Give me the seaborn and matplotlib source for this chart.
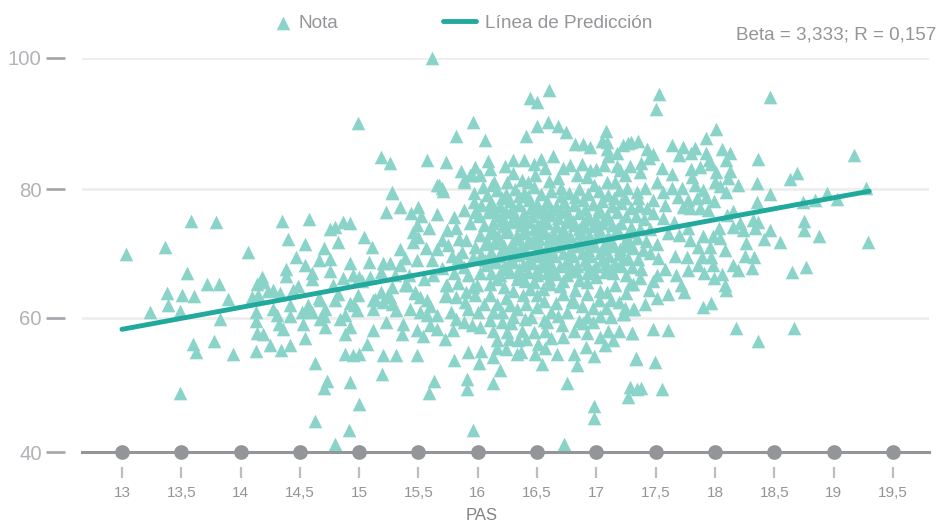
import matplotlib
matplotlib.use("Agg")
import matplotlib.pyplot as plt
import pandas as pd
import seaborn as sns

# values as (PAS, Nota)
left_points = [
    (13.03,70.2),(13.36,71.2),(13.58,75.2),(13.79,75.0),(14.06,70.4),(14.35,75.2),(14.58,75.5),(14.40,72.4),
    (14.54,71.7),(14.47,69.7),(13.55,67.3),(13.72,65.6),(13.82,65.6),(13.38,64.2),(13.51,63.9),(13.61,63.8),
    (13.39,62.4),(13.24,61.3),(13.49,61.5),(13.89,63.3),(13.83,60.3),(13.60,56.5),(13.62,55.3),(13.78,56.9),
    (13.94,55.0),(14.13,55.4),(14.25,56.3),(14.34,55.6),(14.42,56.3),(13.49,49.0),(14.13,61.3),(14.13,60.0),
    (14.14,58.1),(14.19,58.0),(14.32,59.5),(14.36,58.7),(14.53,59.5),(14.54,57.4),(14.63,53.6),(14.42,60.7),
    (14.27,61.8),(14.31,60.9),(14.42,62.4),(14.10,63.6),(14.15,63.9),(14.14,65.6),(14.18,66.7),(14.19,65.9),
    (14.23,64.5),(14.27,64.7),(14.33,64.2),(14.38,67.9),(14.38,66.8),(14.48,65.3),(14.44,64.7),(14.54,68.5),
    (14.60,67.3),(14.60,66.3),(14.52,61.3),(14.57,62.4),(14.60,61.3),(14.56,61.8),(14.66,69.2),(14.70,71.0),
    (14.80,74.2),(14.86,75.0),(14.75,74.0),(14.92,74.8),(14.82,72.0),(14.75,69.4),(14.75,67.6),(14.86,66.5),
    (14.82,64.0),(14.78,65.5),(14.66,63.5),(14.70,60.7),
]

sparse_low = [
    (14.80,41.2),(14.91,43.4),(15.00,47.3),(14.73,50.8),(14.70,49.8),(14.92,50.7),(15.19,51.9),(15.63,50.8),
    (15.59,49.0),(15.91,51.2),(15.91,49.6),(15.96,43.4),(16.13,50.6),(16.19,52.5),(16.75,50.6),(16.98,47.0),
    (16.98,45.2),(16.73,41.3),(17.27,48.4),(17.28,50.0),(17.34,49.6),(17.38,49.8),(17.55,49.6),(17.33,54.3),
    (17.49,53.7),(14.63,44.7),(14.88,55.0),(14.95,54.8),(15.00,54.9),(15.20,54.8),(15.31,54.8),(15.49,54.8),
    (14.84,60.3),(14.88,60.9),(14.92,59.1),(14.88,58.0),(15.12,58.6),(15.23,59.8),(15.07,56.5),(14.71,59.1),
    (14.67,63.2),(14.71,61.8),(14.67,60.3),
]

top_points = [
    (15.61,100.0),(14.99,90.1),(15.96,90.2),(15.82,88.1),(15.18,84.9),(15.26,84.0),(15.57,84.4),(15.73,84.2),
    (15.86,82.8),(15.98,83.4),(15.88,81.4),(15.95,82.2),(15.66,80.6),(15.70,80.2),(15.28,79.4),(15.23,76.5),
    (15.34,77.3),(16.60,95.1),(16.44,93.9),(16.50,93.3),(16.59,90.2),(16.50,89.6),(16.68,89.6),(16.74,88.7),
    (16.41,88.1),(16.06,87.5),(17.08,88.9),(16.82,86.9),(16.89,86.9),(16.95,86.4),(17.05,87.3),(17.09,87.2),
    (17.09,86.1),(17.22,86.7),(17.17,85.5),(17.27,87.0),(17.10,85.0),(16.09,84.3),(16.10,83.1),(16.23,83.5),
    (16.30,84.4),(16.39,84.4),(16.47,83.8),(16.53,84.6),(16.63,85.0),(16.57,83.2),(16.30,82.5),(16.48,82.2),
    (16.72,83.2),(16.78,83.7),(16.88,83.8),(16.95,82.9),(17.00,83.1),(17.06,83.7),(17.17,83.5),(17.24,82.2),
    (15.93,82.2),(16.02,82.2),(16.04,80.3),(16.14,81.1),(16.25,81.1),(16.37,81.4),(16.42,81.1),(16.60,81.3),
    (16.68,81.7),(16.84,82.2),(16.92,81.9),(17.09,81.1),(17.16,81.1),(16.98,80.6),
]

right_points = [
    (17.53,94.5),(17.50,92.2),(18.46,94.0),(18.01,89.2),(17.92,87.8),(19.17,85.2),(18.36,84.6),(18.69,82.4),
    (18.63,81.5),(18.35,81.0),(18.46,79.3),(18.35,78.1),(19.27,80.2),(18.94,79.4),(19.03,78.5),(18.84,78.4),
    (18.74,78.1),(18.75,75.2),(18.75,73.8),(18.88,72.9),(19.29,72.0),(18.55,72.0),(18.46,73.8),(18.41,72.4),
    (18.26,71.8),(18.33,69.7),(18.25,69.9),(18.15,76.7),(18.10,76.1),(18.19,80.6),(18.13,82.8),(18.11,81.7),
    (18.00,81.1),(18.04,80.5),(18.09,79.6),(17.99,78.2),(18.13,85.5),(18.06,86.1),(18.09,84.4),(17.92,85.5),
    (17.95,84.4),(17.97,83.8),(18.01,82.6),(17.83,86.3),(17.80,85.5),(17.87,83.4),(17.73,86.4),(17.70,85.2),
    (17.64,86.7),(17.80,83.1),(17.81,81.9),(17.55,83.2),(17.51,81.1),(17.64,82.3),(17.48,85.4),(17.43,86.1),
    (17.44,84.8),(17.35,87.3),(17.29,87.2),(17.28,83.5),(17.37,82.6),(17.38,84.0),(18.32,75.3),(18.36,75.0),
    (18.34,74.1),(18.24,73.8),(18.15,74.3),(18.21,74.9),(18.03,74.1),(17.90,72.9),(17.98,72.9),(18.04,72.6),
    (17.79,72.3),(17.86,71.2),(17.96,71.2),(18.08,70.8),(17.66,69.9),(17.76,69.7),(17.89,69.7),(17.97,69.7),
    (17.70,73.0),(17.60,73.3),(17.51,71.7),(17.77,74.1),(17.65,75.0),(17.56,75.6),(17.48,76.4),(17.58,77.6),
    (17.87,77.1),(17.94,76.8),(17.79,77.1),(17.73,77.3),(17.69,78.8),(17.77,78.4),(17.85,78.7),(17.92,78.8),
    (17.56,79.6),(17.64,80.2),(17.72,80.2),(17.83,80.6),(17.90,79.9),(17.34,79.6),(17.41,80.2),(17.48,78.4),
    (17.26,80.2),(17.20,82.9),(17.35,78.7),(18.18,58.9),(18.36,56.9),(18.67,58.9),(17.90,62.1),(17.97,62.7),
    (18.08,65.4),(18.09,64.7),(18.65,67.4),(18.77,68.2),(18.31,68.0),(18.19,67.7),(18.15,68.5),(17.99,66.5),
    (18.06,67.1),(17.91,67.3),(17.98,68.5),(17.86,68.5),(17.77,67.7),(17.67,66.9),(17.71,65.4),(17.74,64.4),
    (17.60,64.1),(17.51,63.5),(17.44,64.7),(17.48,66.0),(17.51,66.9),(17.41,62.5),(17.32,61.8),(17.24,62.0),
    (17.22,61.0),(17.30,58.1),(17.48,58.7),(17.60,58.6),
]

mid_points = [
    (15.28,79.6),(15.67,80.6),(15.71,79.7),(15.50,77.3),(15.44,76.4),(15.52,75.9),(15.66,76.2),(15.49,74.5),
    (15.97,78.1),(15.98,76.5),(15.88,81.1),(15.04,72.7),(15.11,71.2),(15.08,68.9),(15.34,70.9),(15.45,73.5),
    (15.59,74.1),(15.74,73.8),(15.82,74.1),(15.50,72.7),(15.45,72.0),(15.70,72.3),(15.84,72.4),(15.75,71.5),
    (15.66,70.9),(15.87,70.5),(15.98,71.2),(15.96,69.7),(15.20,68.8),(15.26,68.8),(15.39,69.6),(15.49,69.3),
    (15.61,69.3),(15.18,67.4),(15.34,68.5),(14.92,68.8),(14.95,66.9),(15.00,66.7),(15.09,66.7),(15.28,65.1),
    (15.18,64.4),(14.99,63.9),(14.92,62.7),(15.12,63.2),(15.26,63.6),(15.40,65.4),(15.47,64.2),(15.57,63.2),
    (15.51,63.6),(15.72,63.8),(15.82,63.6),(15.74,65.4),(15.83,65.7),(15.96,65.1),(15.02,66.0),(14.96,62.4),
    (14.98,61.6),(14.80,63.2),(15.13,63.3),(15.24,63.9),(15.20,62.9),(15.12,61.8),(15.28,62.6),(15.31,61.6),
    (15.39,65.4),(15.47,64.4),(15.43,61.8),(15.51,61.3),(15.57,60.9),(15.66,60.9),(15.37,59.5),(15.36,58.0),
    (15.49,58.6),(15.54,57.7),(15.66,58.7),(15.60,59.4),(15.72,57.2),(15.79,58.6),(15.82,60.3),(15.88,59.8),
    (15.73,63.9),(15.73,65.4),(15.55,66.4),(15.62,67.0),(15.42,66.9),(15.70,68.0),(15.80,67.2),(15.88,68.1),
    (15.92,66.9),(15.83,69.6),(15.30,67.0),(15.56,71.0),(15.78,69.8),(15.90,72.3),(15.93,74.9),(15.88,76.9),
    (15.80,75.8),(15.60,62.3),(15.89,62.9),(15.77,61.4),(15.90,64.3),
]

lower_cloud = [
    (15.92,55.3),(16.03,55.4),(16.01,53.6),(15.80,54.1),(16.13,54.5),(16.24,55.7),(16.33,55.0),(16.36,55.3),
    (16.16,55.8),(16.16,57.0),(16.26,57.3),(16.34,57.0),(16.41,57.3),(16.51,56.5),(16.57,55.8),(16.48,55.0),
    (16.54,53.4),(16.67,55.0),(16.81,55.0),(16.84,53.2),(16.91,56.0),(16.98,54.6),(17.07,56.3),(17.14,57.1),
    (17.30,58.2),(17.33,54.2),(16.81,58.5),(16.71,59.3),(16.89,59.6),(16.97,59.8),(17.03,57.5),(17.19,58.5),
    (17.10,58.5),(17.23,61.1),(17.31,61.8),(17.12,60.6),(17.03,60.8),(16.92,60.6),(16.68,60.8),(16.58,59.8),
    (16.57,58.5),(16.47,58.3),(16.37,58.5),(16.40,60.3),(16.20,59.8),(16.10,60.1),(16.02,59.1),(15.95,59.3),
    (15.92,61.8),(16.00,61.3),(16.13,61.3),(16.20,61.3),(16.33,61.8),(16.50,62.1),(16.62,61.3),(16.81,62.9),
    (16.92,64.1),(17.02,63.1),(17.12,63.1),(17.19,62.9),(17.31,65.6),(17.16,65.4),(17.03,64.6),(16.92,65.9),
    (16.79,63.1),(16.72,64.1),(16.50,63.9),(16.41,62.6),(16.38,63.9),(16.24,63.4),(16.10,63.9),(15.98,63.9),
    (15.99,65.4),(16.10,65.6),(16.22,65.1),(16.33,66.4),(16.47,65.9),(16.61,65.6),(16.75,66.9),(16.85,66.2),
    (17.00,66.7),(17.14,67.2),(17.28,65.6),(17.21,68.4),(16.28,59.6),(16.45,60.6),(16.56,60.1),(16.75,61.4),
    (16.85,60.0),(17.08,61.9),(16.05,62.5),(16.27,62.4),(16.56,63.0),(16.66,62.7),(16.88,62.3),(16.97,62.0),
    (16.30,60.5),(16.16,62.6),(16.44,64.8),(16.30,64.6),(16.69,65.3),(16.55,64.8),(16.82,64.7),(17.09,64.3),
    (17.25,64.2),(16.13,58.5),(16.25,58.3),(16.72,57.6),(16.92,58.2),(16.62,57.4),
]

centre = [
    (15.97,79.4),(16.08,79.1),(16.16,79.9),(16.24,79.3),(16.31,80.1),(16.39,79.5),(16.47,80.3),(16.53,79.2),
    (16.62,79.8),(16.70,80.2),(16.77,79.4),(16.85,80.0),(16.93,79.2),(17.02,79.7),(17.10,79.1),(17.19,79.9),
    (17.24,78.7),(16.03,77.6),(16.11,78.0),(16.19,77.5),(16.27,78.2),(16.35,77.6),(16.43,78.3),(16.50,77.7),
    (16.58,78.2),(16.66,77.5),(16.73,78.1),(16.81,77.6),(16.89,78.3),(16.97,77.8),(17.05,78.2),(17.13,77.5),
    (17.21,77.9),(17.29,77.2),(17.36,77.5),(17.43,77.1),(16.01,75.9),(16.09,76.5),(16.16,76.1),(16.24,76.6),
    (16.31,76.0),(16.39,76.4),(16.46,75.9),(16.54,76.6),(16.62,76.1),(16.70,76.5),(16.77,75.9),(16.85,76.4),
    (16.93,76.0),(17.01,76.6),(17.09,76.1),(17.17,76.5),(17.25,75.9),(17.33,76.0),(17.40,75.4),(16.05,74.6),
    (16.13,74.9),(16.21,74.4),(16.28,75.0),(16.36,74.6),(16.43,75.0),(16.51,74.5),(16.58,74.9),(16.66,74.4),
    (16.74,75.0),(16.81,74.5),(16.89,74.9),(16.97,74.4),(17.05,74.9),(17.13,74.5),(17.21,74.8),(17.29,74.3),
    (17.37,74.0),(17.45,73.9),(16.02,73.1),(16.10,73.4),(16.17,72.9),(16.25,73.5),(16.33,73.0),(16.40,73.3),
    (16.48,72.9),(16.55,73.4),(16.63,73.0),(16.71,73.4),(16.78,72.9),(16.86,73.3),(16.94,73.0),(17.02,73.4),
    (17.10,72.9),(17.18,73.3),(17.26,72.8),(17.34,72.6),(17.42,72.2),(16.06,71.6),(16.14,71.9),(16.22,71.4),
    (16.29,71.9),(16.37,71.5),(16.45,71.9),(16.52,71.4),(16.60,71.8),(16.68,71.4),(16.75,71.8),(16.83,71.3),
    (16.91,71.8),(16.99,71.4),(17.07,71.8),(17.15,71.3),(17.23,71.4),(17.31,71.0),(17.39,70.7),(17.45,70.3),
    (16.03,70.0),(16.11,70.4),(16.18,69.9),(16.26,70.4),(16.34,70.0),(16.41,70.3),(16.49,69.9),(16.57,70.3),
    (16.64,69.9),(16.72,70.3),(16.80,69.8),(16.88,70.3),(16.95,69.9),(17.03,70.3),(17.11,69.8),(17.19,70.1),
    (17.27,69.6),(17.35,69.4),(17.52,69.5),(16.07,68.5),(16.15,68.9),(16.23,68.4),(16.30,68.9),(16.38,68.5),
    (16.46,68.8),(16.53,68.3),(16.61,68.8),(16.69,68.4),(16.77,68.8),(16.84,68.3),(16.92,68.7),(17.00,68.3),
    (17.08,68.6),(17.16,68.7),(17.30,68.2),(17.38,67.9),(17.58,67.9),(16.02,67.2),(16.11,67.3),(16.19,66.9),
    (16.27,67.4),(16.35,67.0),(16.42,67.4),(16.50,66.9),(16.58,67.2),(16.66,67.1),(16.83,67.5),(16.92,67.2),
    (17.07,67.4),(17.25,66.9),(17.37,66.5),(16.42,79.0),(16.57,77.0),(16.74,76.7),(16.47,74.0),(16.66,72.4),
    (16.33,72.4),(16.86,72.1),(16.20,75.3),(17.00,75.3),(16.55,69.1),(16.40,75.6),(16.90,74.2),(16.60,72.6),
]

centre_fill = [
    (16.12,80.6),(16.20,78.7),(16.35,79.0),(16.29,77.0),(16.12,77.0),(16.20,75.9),(16.33,75.3),(16.49,76.9),
    (16.45,77.1),(16.62,77.0),(16.70,78.9),(16.82,78.8),(16.90,77.0),(17.02,77.0),(17.15,78.7),(17.08,75.4),
    (16.92,75.4),(16.80,75.2),(16.68,75.6),(16.55,75.5),(16.25,74.0),(16.12,73.9),(16.40,74.0),(16.55,73.9),
    (16.72,73.9),(16.85,74.0),(17.02,74.0),(17.17,74.0),(17.30,73.5),(16.17,72.3),(16.30,70.9),(16.42,72.2),
    (16.52,72.4),(16.72,72.5),(16.95,72.2),(17.12,72.2),(17.26,71.9),(16.08,72.2),(16.20,70.8),(16.38,70.9),
    (16.50,70.7),(16.62,70.9),(16.78,70.6),(16.93,70.7),(17.07,70.9),(17.20,70.9),(16.13,69.3),(16.28,69.4),
    (16.43,69.3),(16.60,69.3),(16.75,69.3),(16.90,69.2),(17.05,69.2),(17.22,69.4),(16.06,69.3),(16.35,67.9),
    (16.20,67.9),(16.50,67.7),(16.63,67.8),(16.78,67.6),(16.97,67.7),(17.12,67.8),(16.40,66.1),(16.60,66.4),
    (16.72,66.1),(16.16,66.4),
]

line_pas = [13.0, 19.3]
line_nota = [58.7, 79.7]

axis_ticks = [13, 13.5, 14, 14.5, 15, 15.5, 16, 16.5, 17, 17.5, 18, 18.5, 19, 19.5]
axis_labels = ['13', '13,5', '14', '14,5', '15', '15,5', '16', '16,5', '17', '17,5', '18', '18,5', '19', '19,5']
nota_ticks = [40, 60.45, 80, 100]
nota_labels = ['40', '60', '80', '100']

points = pd.DataFrame(left_points + sparse_low + top_points + right_points + mid_points + lower_cloud
                      + centre + centre_fill, columns=['PAS', 'Nota'])
dots = pd.DataFrame({'PAS': axis_ticks, 'Nota': [40] * len(axis_ticks)})
linea = pd.DataFrame({'PAS': line_pas, 'Nota': line_nota})

sns.set_theme(style='white')
plt.rcParams['font.family'] = ['Liberation Sans', 'DejaVu Sans']

TEAL = '#8AD3C8'
DARK_TEAL = '#20A99C'
GREY = '#939598'

fig = plt.figure(figsize=(9.43, 5.24), dpi=100)
ax = fig.add_axes([82 / 943, (524 - 452.3) / 524, 847 / 943, 394.6 / 524])

for t in nota_ticks[1:]:
    ax.axhline(t, color='#EEEEEE', lw=2, zorder=0)

sns.scatterplot(data=points, x='PAS', y='Nota', ax=ax, marker='^', s=96, color=TEAL, linewidth=0,
                clip_on=False, zorder=2, label='Nota')
sns.lineplot(data=linea, x='PAS', y='Nota', ax=ax, color=DARK_TEAL, lw=3.5, zorder=3,
             solid_capstyle='round', label='Línea de Predicción')
sns.scatterplot(data=dots, x='PAS', y='Nota', ax=ax, s=112, color=GREY, linewidth=0, clip_on=False,
                zorder=4, legend=False)

ax.set_xlim(12.663, 19.804)
ax.set_ylim(40, 100)
sns.despine(ax=ax, left=True)
ax.spines['bottom'].set_color(GREY)
ax.spines['bottom'].set_linewidth(2.2)

ax.set_xticks(axis_ticks, axis_labels, fontsize=11.1, color='#939598')
ax.set_yticks(nota_ticks, nota_labels, fontsize=14.7, color='#B1B3B6')
ax.tick_params(axis='x', length=0, pad=24)
ax.tick_params(axis='y', length=0, pad=29)
ax.set_xlabel('PAS', fontsize=12, color='#808285')
ax.xaxis.set_label_coords((482 - 82) / 847, -0.14)
ax.set_ylabel('')

# tick dashes sit apart from the axis
for t in nota_ticks:
    ax.plot([-36 / 847, -17 / 847], [t, t], transform=ax.get_yaxis_transform(), color='#A7A9AC', lw=2,
            clip_on=False, solid_capstyle='butt')
for t in axis_ticks:
    ax.plot([t, t], [-15 / 394.6, -26 / 394.6], transform=ax.get_xaxis_transform(), color='#BCBEC0', lw=1.6,
            clip_on=False, solid_capstyle='butt')

ax.text(936 / 943, 1 - 35 / 524, 'Beta = 3,333; R = 0,157', transform=fig.transFigure, ha='right', va='center',
        fontsize=13.6, color='#939598')

# two legends because the marker and the line have different handle widths
handles, labels = ax.get_legend_handles_labels()
leg1 = ax.legend(handles[:1], labels[:1], loc='center left', bbox_to_anchor=(275 / 943, 1 - 23 / 524),
                 bbox_transform=fig.transFigure, frameon=False, fontsize=13.7, handlelength=0.84,
                 handletextpad=0.37, borderpad=0, borderaxespad=0)
ax.add_artist(leg1)
leg2 = ax.legend(handles[1:], labels[1:], loc='center left', bbox_to_anchor=(443 / 943, 1 - 23 / 524),
                 bbox_transform=fig.transFigure, frameon=False, fontsize=13.7, handlelength=1.74,
                 handletextpad=0.47, borderpad=0, borderaxespad=0)
for leg in (leg1, leg2):
    for txt in leg.get_texts():
        txt.set_color('#939598')

fig.savefig('out.png', dpi=100)
